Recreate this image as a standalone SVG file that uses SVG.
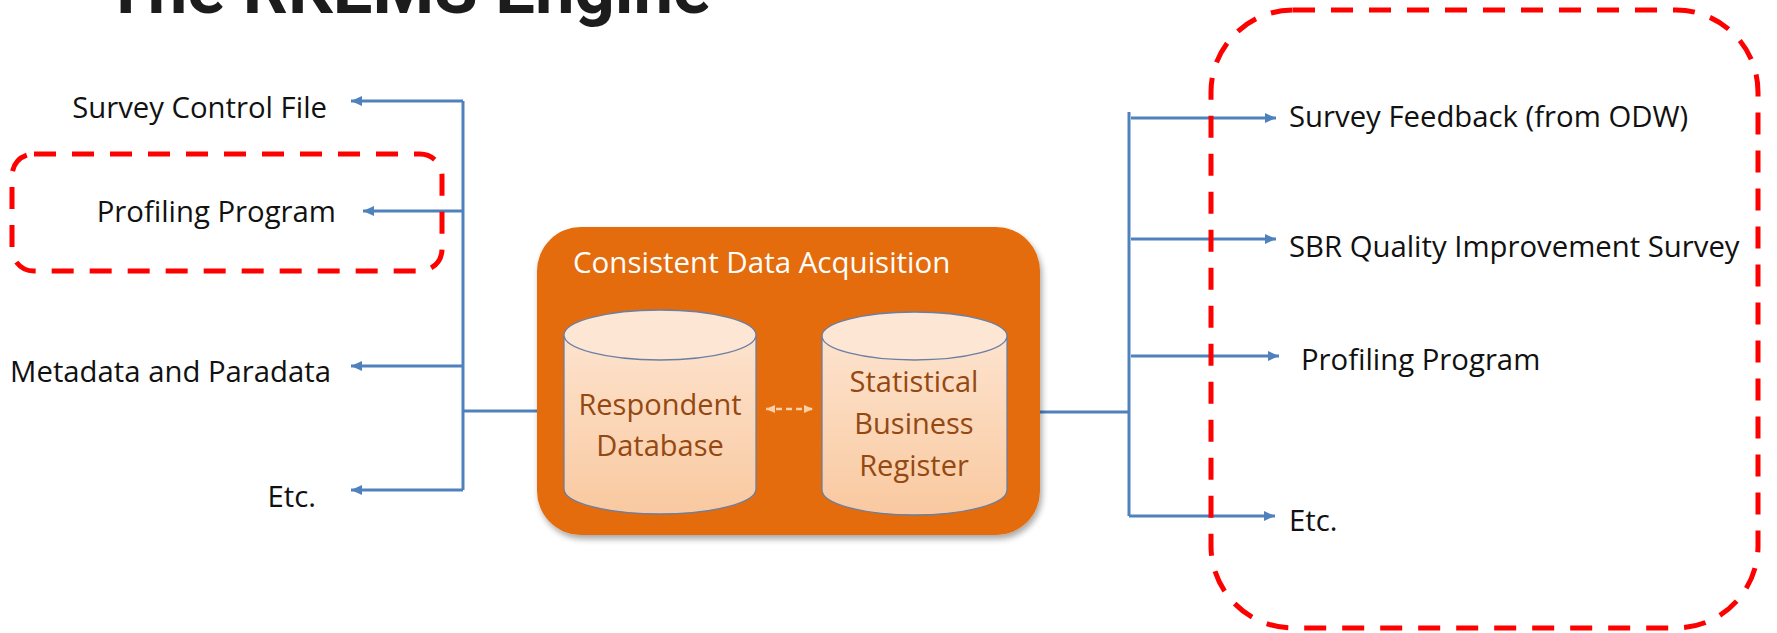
<svg xmlns="http://www.w3.org/2000/svg" width="1777" height="633" viewBox="0 0 1777 633">
  <style>
    .lbl { font-family: "Open Sans", "Liberation Sans", sans-serif; font-size: 29.3px; fill: #111111; }
    .cyl-txt { font-family: "Open Sans", "Liberation Sans", sans-serif; font-size: 29px; fill: #944812; text-anchor: middle; }
    .conn { fill: none; stroke: #4F81BD; stroke-width: 3; }
    .redbox { fill: none; stroke: #FF0000; stroke-width: 5; stroke-dasharray: 22 16; }
    .cyl-body { fill: url(#cylGrad); stroke: #6A7FA3; stroke-width: 1.3; }
    .cyl-top { fill: #FDE6D3; stroke: #6A7FA3; stroke-width: 1.3; }
  </style>
  <defs>
    <marker id="arrowBlue" markerUnits="userSpaceOnUse" markerWidth="11" markerHeight="10" refX="11" refY="5" orient="auto">
      <path d="M0,0 L11,5 L0,10 z" fill="#4F81BD"/>
    </marker>
    <marker id="arrowPeach" markerUnits="userSpaceOnUse" markerWidth="9" markerHeight="8" refX="9" refY="4" orient="auto-start-reverse">
      <path d="M0,0 L9,4 L0,8 z" fill="#FBCFA8"/>
    </marker>
    <linearGradient id="cylGrad" x1="0" y1="0" x2="0" y2="1">
      <stop offset="0" stop-color="#FDE3CE"/>
      <stop offset="1" stop-color="#F9C9A0"/>
    </linearGradient>
    <filter id="shadow" x="-10%" y="-10%" width="120%" height="125%">
      <feGaussianBlur in="SourceAlpha" stdDeviation="3"/>
      <feOffset dx="2" dy="4" result="b"/>
      <feComponentTransfer><feFuncA type="linear" slope="0.35"/></feComponentTransfer>
      <feMerge><feMergeNode/><feMergeNode in="SourceGraphic"/></feMerge>
    </filter>
  </defs>

  <rect width="1777" height="633" fill="#FFFFFF"/>

  <g id="title">
    <text x="104" y="13" font-family="Roboto, Inter, 'Liberation Sans', sans-serif" font-weight="700" font-size="70" fill="#1C1C1C" textLength="607" lengthAdjust="spacingAndGlyphs">The RKEMS Engine</text>
  </g>

  <g id="connectors">
    <!-- left tree -->
    <path class="conn" d="M463,101 L463,490"/>
    <path class="conn" d="M463,101 L351,101" marker-end="url(#arrowBlue)"/>
    <path class="conn" d="M463,211 L363,211" marker-end="url(#arrowBlue)"/>
    <path class="conn" d="M463,366 L351,366" marker-end="url(#arrowBlue)"/>
    <path class="conn" d="M463,490 L351,490" marker-end="url(#arrowBlue)"/>
    <path class="conn" d="M463,411 L565,411"/>
    <!-- right tree -->
    <path class="conn" d="M1129,112 L1129,516"/>
    <path class="conn" d="M1006,412 L1129,412"/>
    <path class="conn" d="M1131,118 L1276,118" marker-end="url(#arrowBlue)"/>
    <path class="conn" d="M1131,239 L1276,239" marker-end="url(#arrowBlue)"/>
    <path class="conn" d="M1131,356 L1279,356" marker-end="url(#arrowBlue)"/>
    <path class="conn" d="M1129,516 L1275,516" marker-end="url(#arrowBlue)"/>
  </g>

  <g id="left-labels">
    <text class="lbl" x="327" y="118" text-anchor="end">Survey Control File</text>
    <text class="lbl" x="336" y="222" text-anchor="end">Profiling Program</text>
    <text class="lbl" x="331" y="382" text-anchor="end">Metadata and Paradata</text>
    <text class="lbl" x="316" y="507" text-anchor="end">Etc.</text>
  </g>

  <g id="left-highlight">
    <rect class="redbox" x="12" y="154" width="430" height="117" rx="22" ry="22"/>
  </g>

  <g id="consistent-data-acquisition">
    <rect x="537" y="227" width="503" height="308" rx="44" ry="44" fill="#E46C0A" filter="url(#shadow)"/>
    <text x="573" y="273" font-family="'Open Sans', 'Liberation Sans', sans-serif" font-size="29.5" fill="#FFFFFF">Consistent Data Acquisition</text>
  </g>

  <g id="respondent-database">
    <path class="cyl-body" d="M564,335 L564,489 A96,25 0 0 0 756,489 L756,335 Z"/>
    <ellipse class="cyl-top" cx="660" cy="335" rx="96" ry="25"/>
    <text class="cyl-txt" x="660" y="415">Respondent</text>
    <text class="cyl-txt" x="660" y="456">Database</text>
  </g>

  <g id="statistical-business-register">
    <path class="cyl-body" d="M822,336 L822,490 A92.5,25 0 0 0 1007,490 L1007,336 Z"/>
    <ellipse class="cyl-top" cx="914.5" cy="336" rx="92.5" ry="24"/>
    <text class="cyl-txt" x="914" y="392">Statistical</text>
    <text class="cyl-txt" x="914" y="434">Business</text>
    <text class="cyl-txt" x="914" y="476">Register</text>
  </g>

  <g id="db-link">
    <path d="M766,409 L813,409" fill="none" stroke="#FBCFA8" stroke-width="2.5" stroke-dasharray="6 4" marker-start="url(#arrowPeach)" marker-end="url(#arrowPeach)"/>
  </g>

  <g id="right-labels">
    <text class="lbl" x="1289" y="127">Survey Feedback (from ODW)</text>
    <text class="lbl" x="1289" y="257">SBR Quality Improvement Survey</text>
    <text class="lbl" x="1301" y="370">Profiling Program</text>
    <text class="lbl" x="1289" y="531">Etc.</text>
  </g>

  <g id="right-highlight">
    <rect class="redbox" x="1211" y="10" width="547" height="618" rx="82" ry="82"/>
  </g>
</svg>
